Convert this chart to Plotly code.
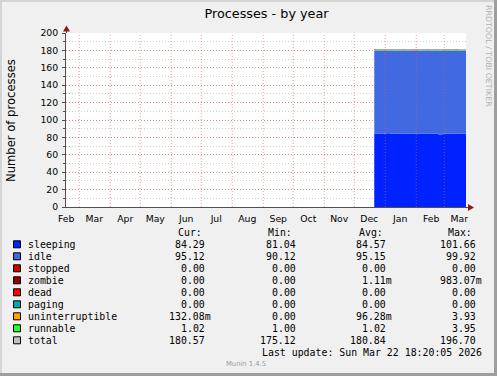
import pandas as pd
import plotly.graph_objects as go

# ---------------- data ----------------
dates = ["2025-12-21", "2025-12-25", "2025-12-29", "2026-01-02", "2026-01-06",
         "2026-01-10", "2026-01-14", "2026-01-18", "2026-01-22", "2026-01-26",
         "2026-01-30", "2026-02-03", "2026-02-07", "2026-02-11", "2026-02-15",
         "2026-02-19", "2026-02-23", "2026-02-27", "2026-03-03", "2026-03-07",
         "2026-03-11", "2026-03-15", "2026-03-19", "2026-03-22 18:20"]
sleeping = [84.6, 84.5, 84.4, 84.7, 84.5, 84.3, 84.6, 84.5, 84.4, 84.6, 84.5, 84.4,
            84.6, 84.5, 84.4, 84.5, 83.2, 84.5, 84.6, 84.4, 84.5, 84.3, 84.4, 84.29]
idle = [95.2, 95.1, 95.2, 95.0, 95.1, 95.2, 95.1, 95.2, 95.1, 95.0, 95.2, 95.1,
        95.1, 95.2, 95.1, 95.1, 96.3, 95.1, 95.0, 95.2, 95.1, 95.2, 95.1, 95.12]
stopped = [0.0] * 24
zombie = [0.0] * 24
dead = [0.0] * 24
paging = [0.0] * 24
uninterruptible = [0.1, 0.1, 0.1, 0.1, 0.1, 0.1, 0.1, 0.1, 0.1, 1.0, 0.1, 0.1,
                   0.1, 0.1, 0.1, 0.1, 0.1, 0.1, 0.1, 0.1, 0.1, 0.1, 0.1, 0.13]
runnable = [1.6, 1.0, 1.0, 1.6, 1.0, 1.0, 1.0, 1.6, 1.0, 1.0, 1.6, 1.0,
            1.0, 1.0, 1.0, 1.0, 1.0, 1.0, 1.6, 1.0, 1.0, 1.0, 1.0, 1.02]
total = [180.8, 180.7, 180.7, 180.8, 180.7, 180.6, 180.8, 180.7, 180.6, 180.8, 180.7, 180.6,
         180.8, 180.7, 180.6, 180.7, 180.6, 180.7, 180.7, 180.6, 180.7, 180.6, 180.6, 180.57]

series_names = ["sleeping", "idle", "stopped", "zombie", "dead", "paging",
                "uninterruptible", "runnable", "total"]
series_colors = ["#0022ff", "#4169e1", "#cc0000", "#990000", "#ff0000", "#00aaaa",
                 "#ffa500", "#22ff22", "#c0c0c0"]
cur_vals = ["84.29", "95.12", "0.00", "0.00", "0.00", "0.00", "132.08m", "1.02", "180.57"]
min_vals = ["81.04", "90.12", "0.00", "0.00", "0.00", "0.00", "0.00", "1.00", "175.12"]
avg_vals = ["84.57", "95.15", "0.00", "1.11m", "0.00", "0.00", "96.28m", "1.02", "180.84"]
max_vals = ["101.66", "99.92", "0.00", "983.07m", "0.00", "0.00", "3.93", "3.95", "196.70"]

month_labels = ["Feb", "Mar", "Apr", "May", "Jun", "Jul", "Aug", "Sep", "Oct", "Nov",
                "Dec", "Jan", "Feb", "Mar"]
y_ticks = [0, 20, 40, 60, 80, 100, 120, 140, 160, 180, 200]

x_start = "2025-02-15 18:20"
x_end = "2026-03-22 18:20"

title_text = "Processes - by year"
y_title = "Number of processes"
last_update = "Last update: Sun Mar 22 18:20:05 2026"

# ---------------- geometry helpers ----------------
W, H = 497, 376
L, T, PW, PH = 66, 33, 400, 174


def fx(X):
    return (X - L) / PW


def fy(Y):
    return (T + PH - Y) / PH


fig = go.Figure()

stack_data = [sleeping, idle, stopped, zombie, dead, paging, uninterruptible, runnable]
for name, vals, col in zip(series_names[:8], stack_data, series_colors[:8]):
    fig.add_trace(go.Scatter(
        x=dates, y=vals, name=name, mode="lines", stackgroup="s",
        line=dict(width=0, shape="hv", color=col), fillcolor=col,
        showlegend=False, hoverinfo="skip"))

fig.add_trace(go.Scatter(
    x=dates, y=total, name="total", mode="lines",
    line=dict(width=1.4, shape="hv", color="#a4a4a4"),
    showlegend=False, hoverinfo="skip"))

month_starts = pd.date_range("2025-02-01", periods=len(month_labels), freq="MS")
label_pos = month_starts + pd.Timedelta(days=15)

shapes = []
# vertical month grid lines drawn over the data
for d in month_starts:
    if pd.Timestamp(x_start) < d < pd.Timestamp(x_end):
        shapes.append(dict(type="line", xref="x", yref="paper", x0=d, x1=d, y0=0, y1=1,
                           line=dict(color="rgba(235,90,90,0.6)", width=1, dash="1px,2px"),
                           layer="above"))

# axis extensions and arrows
axc = "#505050"
arc = "#8b1a1a"
shapes.append(dict(type="line", xref="paper", yref="paper", x0=fx(66.5), x1=fx(66.5),
                   y0=fy(33), y1=fy(29), line=dict(color=axc, width=1)))
shapes.append(dict(type="path", xref="paper", yref="paper",
                   path=f"M {fx(63)},{fy(31.5)} L {fx(70)},{fy(31.5)} L {fx(66.5)},{fy(25.5)} Z",
                   fillcolor=arc, line=dict(width=0)))
shapes.append(dict(type="line", xref="paper", yref="paper", x0=fx(466), x1=fx(470),
                   y0=fy(207.5), y1=fy(207.5), line=dict(color=axc, width=1)))
shapes.append(dict(type="path", xref="paper", yref="paper",
                   path=f"M {fx(468)},{fy(204)} L {fx(468)},{fy(211)} L {fx(474)},{fy(207.5)} Z",
                   fillcolor=arc, line=dict(width=0)))

# frame
shapes.append(dict(type="rect", xref="paper", yref="paper", x0=fx(0), x1=fx(497),
                   y0=fy(0), y1=fy(2), fillcolor="#d4d4d4", line=dict(width=0)))
shapes.append(dict(type="rect", xref="paper", yref="paper", x0=fx(0), x1=fx(2),
                   y0=fy(0), y1=fy(376), fillcolor="#d4d4d4", line=dict(width=0)))
shapes.append(dict(type="rect", xref="paper", yref="paper", x0=fx(494), x1=fx(497),
                   y0=fy(0), y1=fy(376), fillcolor="#9e9e9e", line=dict(width=0)))
shapes.append(dict(type="rect", xref="paper", yref="paper", x0=fx(0), x1=fx(497),
                   y0=fy(373), y1=fy(376), fillcolor="#9e9e9e", line=dict(width=0)))

annotations = []
mono = "DejaVu Sans Mono"
fs = 9.9
row_y = [244.3 + 12 * i for i in range(len(series_names))]
for i, (name, col) in enumerate(zip(series_names, series_colors)):
    y = row_y[i]
    shapes.append(dict(type="rect", xref="paper", yref="paper",
                       x0=fx(13.5), x1=fx(20.5), y0=fy(y - 3.5), y1=fy(y + 3.5),
                       fillcolor=col, line=dict(color="#000000", width=1)))
    annotations.append(dict(text=name, x=fx(26.5), y=fy(y), xref="paper", yref="paper",
                            xanchor="left", yanchor="middle", showarrow=False, borderpad=0,
                            font=dict(family=mono, size=fs, color="#000")))
    for vals, xr in ((cur_vals, 212), (min_vals, 303.3), (avg_vals, 392.7), (max_vals, 483.3)):
        v = vals[i]
        if not v.endswith("m"):
            v = v + "\u00a0"
        annotations.append(dict(text=v, x=fx(xr), y=fy(y), xref="paper", yref="paper",
                                xanchor="right", yanchor="middle", showarrow=False, borderpad=0,
                                font=dict(family=mono, size=fs, color="#000")))

for txt, xl in (("Cur:", 176.5), ("Min:", 267.3), ("Avg:", 358.3), ("Max:", 447.3)):
    annotations.append(dict(text=txt, x=fx(xl), y=fy(232.5), xref="paper", yref="paper",
                            xanchor="left", yanchor="middle", showarrow=False, borderpad=0,
                            font=dict(family=mono, size=fs, color="#000")))

annotations.append(dict(text=last_update, x=fx(483.3), y=fy(352.3), xref="paper", yref="paper",
                        xanchor="right", yanchor="middle", showarrow=False, borderpad=0,
                        font=dict(family=mono, size=fs, color="#000")))
annotations.append(dict(text="Munin 1.4.5", x=fx(245.5), y=fy(364.3), xref="paper", yref="paper",
                        xanchor="center", yanchor="middle", showarrow=False, borderpad=0,
                        font=dict(family="DejaVu Sans", size=6.8, color="#9a9a9a")))
annotations.append(dict(text="RRDTOOL / TOBI OETIKER", x=fx(489), y=fy(56), xref="paper",
                        yref="paper", xanchor="center", yanchor="middle", showarrow=False,
                        textangle=90, borderpad=0,
                        font=dict(family="DejaVu Sans", size=7.9, color="#b0b0b0")))
annotations.append(dict(text=y_title, x=fx(11), y=fy(120), xref="paper", yref="paper",
                        xanchor="center", yanchor="middle", showarrow=False, textangle=-90,
                        borderpad=0, font=dict(family="DejaVu Sans", size=11.6, color="#000")))

fig.update_layout(
    width=W, height=H,
    margin=dict(l=L, r=W - L - PW, t=T, b=H - T - PH, pad=0),
    paper_bgcolor="#f0f0f0", plot_bgcolor="#ffffff",
    title=dict(text=title_text, x=fx(266.5), xref="paper", y=1 - 14 / H, yref="container",
               xanchor="center", yanchor="middle",
               font=dict(family="DejaVu Sans", size=12.8, color="#000")),
    showlegend=False, hovermode=False,
    shapes=shapes, annotations=annotations,
    xaxis=dict(type="date", range=[x_start, x_end], tickmode="array",
               tickvals=list(label_pos), ticktext=month_labels, ticks="",
               showgrid=False, zeroline=False, showline=True, linecolor=axc, linewidth=1,
               tickfont=dict(family="DejaVu Sans", size=9.3, color="#000"),
               ticklabelstandoff=3, fixedrange=True),
    yaxis=dict(range=[0, 200], tickmode="array", tickvals=y_ticks,
               ticks="outside", ticklen=3, tickcolor=axc,
               showgrid=True, gridcolor="rgba(235,90,90,0.6)", griddash="1px,2px",
               minor=dict(dtick=10, showgrid=True, gridcolor="#cfcfcf", griddash="1px,2px",
                          ticks="outside", ticklen=2, tickcolor=axc),
               zeroline=False, showline=True, linecolor=axc, linewidth=1,
               tickfont=dict(family="DejaVu Sans", size=9.3, color="#000"),
               ticklabelstandoff=2, fixedrange=True),
)

fig.write_html("out.html", config={"displayModeBar": False},
               post_script="document.body.style.margin='0';document.body.style.overflow='hidden';")
